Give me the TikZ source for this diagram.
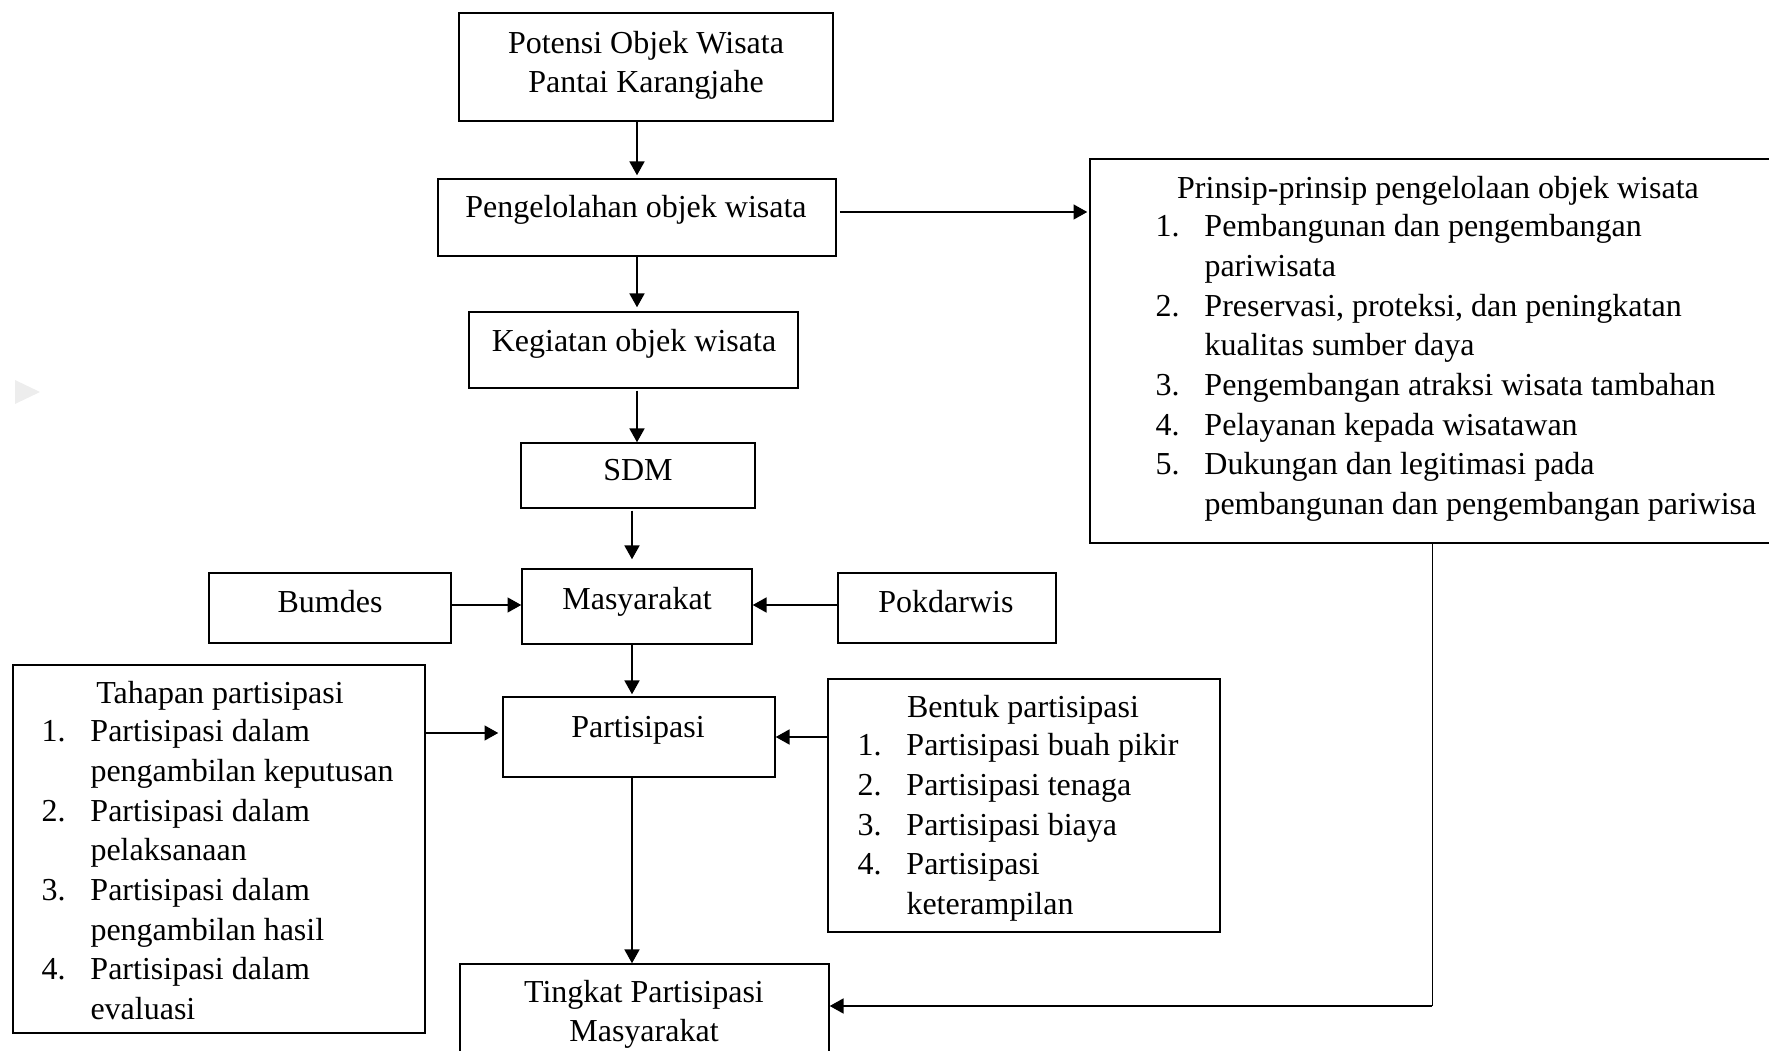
\documentclass[tikz,border=0pt]{standalone}
\usepackage{fontspec}
\setmainfont{Liberation Serif}
\usetikzlibrary{arrows.meta,fit}
\newcommand\numi[1]{\makebox[19.6pt][l]{#1}}
\newcommand\cont{\hspace*{19.6pt}}
\begin{document}
\begin{tikzpicture}[x=0.4pt,y=-0.4pt,
  box/.style={draw, line width=0.6pt, inner sep=0pt},
  txt/.style={inner sep=0pt, font=\fontsize{12.8}{15.6}\selectfont},
  lst/.style={inner sep=0pt, font=\fontsize{12.8}{15.85}\selectfont},
  arr/.style={line width=0.6pt, -{Triangle[length=5.5pt,width=6pt]}},
  link/.style={line width=0.4pt}]
\useasboundingbox (0,0) rectangle (1769,1051);
\clip (0,0) rectangle (1769,1051);

% faint marker at left
\fill[black!7] (15,380) -- (40,392) -- (15,404) -- cycle;

% boxes
\node[box, fit={(459,13) (833,121)}] (pot) {};
\node[box, fit={(438,179) (836,256)}] (peng) {};
\node[box, fit={(469,312) (798,388)}] (keg) {};
\node[box, fit={(521,443) (755,508)}] (sdm) {};
\node[box, fit={(522,569) (752,644)}] (mas) {};
\node[box, fit={(209,573) (451,643)}] (bum) {};
\node[box, fit={(838,573) (1056,643)}] (pok) {};
\node[box, fit={(13,665) (425,1033)}] (tah) {};
\node[box, fit={(503,697) (775,777)}] (par) {};
\node[box, fit={(828,679) (1220,932)}] (ben) {};
\node[box, fit={(460,964) (829,1075)}] (tin) {};
\node[box, fit={(1090,159) (1785,543)}] (pri) {};

% texts
\node[txt, anchor=base] (potT) at (646,54) {\begin{tabular}[t]{@{}c@{}}Potensi Objek Wisata\\Pantai Karangjahe\end{tabular}};
\node[txt, anchor=base] (pengT) at (636,218) {Pengelolahan objek wisata};
\node[txt, anchor=base] (kegT) at (634,352) {Kegiatan objek wisata};
\node[txt, anchor=base] (sdmT) at (638,481) {SDM};
\node[txt, anchor=base] (masT) at (637,610) {Masyarakat};
\node[txt, anchor=base] (bumT) at (330,613) {Bumdes};
\node[txt, anchor=base] (pokT) at (946,613) {Pokdarwis};
\node[txt, anchor=base] (parT) at (638,738) {Partisipasi};
\node[txt, anchor=base] (tinT) at (644,1003) {\begin{tabular}[t]{@{}c@{}}Tingkat Partisipasi\\Masyarakat\end{tabular}};

\node[txt, anchor=base] (priH) at (1438,199) {Prinsip-prinsip pengelolaan objek wisata};
\node[lst, anchor=base west] (priL) at (1155,237) {\begin{tabular}[t]{@{}l@{}}
\numi{1.}Pembangunan dan pengembangan\\
\cont pariwisata\\
\numi{2.}Preservasi, proteksi, dan peningkatan\\
\cont kualitas sumber daya\\
\numi{3.}Pengembangan atraksi wisata tambahan\\
\numi{4.}Pelayanan kepada wisatawan\\
\numi{5.}Dukungan dan legitimasi pada\\
\cont pembangunan dan pengembangan pariwisa
\end{tabular}};

\node[txt, anchor=base] (tahH) at (220,704) {Tahapan partisipasi};
\node[lst, anchor=base west] (tahL) at (41,742) {\begin{tabular}[t]{@{}l@{}}
\numi{1.}Partisipasi dalam\\
\cont pengambilan keputusan\\
\numi{2.}Partisipasi dalam\\
\cont pelaksanaan\\
\numi{3.}Partisipasi dalam\\
\cont pengambilan hasil\\
\numi{4.}Partisipasi dalam\\
\cont evaluasi
\end{tabular}};

\node[txt, anchor=base] (benH) at (1023,718) {Bentuk partisipasi};
\node[lst, anchor=base west] (benL) at (857,756) {\begin{tabular}[t]{@{}l@{}}
\numi{1.}Partisipasi buah pikir\\
\numi{2.}Partisipasi tenaga\\
\numi{3.}Partisipasi biaya\\
\numi{4.}Partisipasi\\
\cont keterampilan
\end{tabular}};

% helper coordinates
\coordinate (colA) at (637,0);
\coordinate (colB) at (632,0);
\coordinate (rowPr) at (0,212);
\coordinate (rowM) at (0,605);
\coordinate (rowP1) at (0,733);
\coordinate (rowP2) at (0,737);
\coordinate (kT) at (1432,1006);

% connectors
\draw[arr, shorten >=1.2pt] (pot.south -| colA) -- (peng.north -| colA);
\draw[arr, shorten >=1.6pt] (peng.south -| colA) -- (keg.north -| colA);
\draw[arr, shorten <=0.8pt] (keg.south -| colA) -- (sdm.north -| colA);
\draw[arr, shorten <=0.8pt, shorten >=3.6pt] (sdm.south -| colB) -- (mas.north -| colB);
\draw[arr, shorten >=0.8pt] (mas.south -| colB) -- (par.north -| colB);
\draw[arr] (par.south -| colB) -- (tin.north -| colB);
\draw[arr] (bum.east |- rowM) -- (mas.west |- rowM);
\draw[arr] (pok.west |- rowM) -- (mas.east |- rowM);
\draw[arr, shorten >=1.6pt] (tah.east |- rowP1) -- (par.west |- rowP1);
\draw[arr] (ben.west |- rowP2) -- (par.east |- rowP2);
\draw[arr, shorten <=1.2pt, shorten >=0.8pt] (peng.east |- rowPr) -- (pri.west |- rowPr);
\draw[link] (pri.south -| kT) -- (kT);
\draw[arr] (kT) -- (tin.east |- kT);
\end{tikzpicture}
\end{document}
